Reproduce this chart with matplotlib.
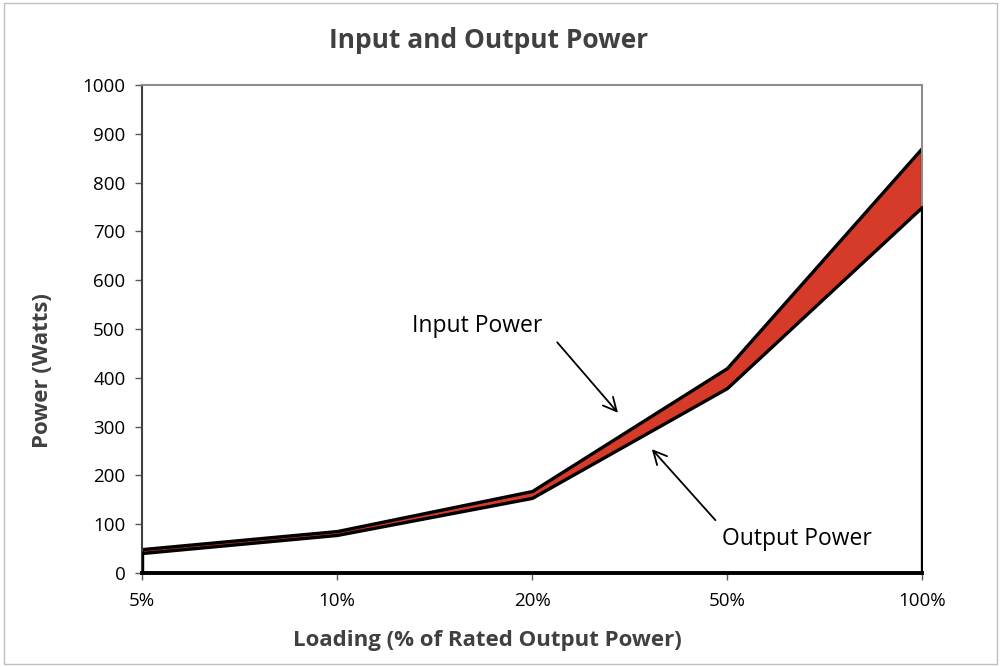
import matplotlib.pyplot as plt
from matplotlib.patches import Rectangle

plt.rcParams['font.family'] = ['Open Sans', 'DejaVu Sans']

loading = ['5%', '10%', '20%', '50%', '100%']
input_power = [49, 86, 168, 420, 871]
output_power = [41, 78, 154, 379, 750]

x = list(range(len(loading)))

fig = plt.figure(figsize=(10.01, 6.67), dpi=100)
ax = fig.add_axes([0.1419, 0.1409, 0.9211 - 0.1419, 0.8726 - 0.1409])

# 外框
fig.patches.append(Rectangle((0.004, 0.004), 0.992, 0.992, transform=fig.transFigure,
                             fill=False, edgecolor='#bfbfbf', linewidth=1.0))

# 输入功率（红色）和输出功率（白色）面积
ax.fill_between(x, 0, input_power, facecolor='#d63a28', edgecolor='black', linewidth=2.4, zorder=2)
ax.fill_between(x, 0, output_power, facecolor='white', edgecolor='black', linewidth=2.4, zorder=3)

ax.set_xlim(0, 4)
ax.set_ylim(0, 1000)
ax.set_yticks(range(0, 1001, 100))
ax.set_xticks(x)
ax.set_xticklabels(loading)
ax.tick_params(axis='both', labelsize=13.5, direction='out', length=5, width=1, color='#595959')
ax.tick_params(axis='y', pad=7)
ax.tick_params(axis='x', pad=9)

for side in ['top', 'right']:
    ax.spines[side].set_color('#8c8c8c')
    ax.spines[side].set_linewidth(1.5)
ax.spines['left'].set_color('#404040')
ax.spines['left'].set_linewidth(1.5)
ax.spines['bottom'].set_color('black')
ax.spines['bottom'].set_linewidth(2.8)
ax.spines['bottom'].set_zorder(5)

fig.text(0.488, 0.94, 'Input and Output Power', fontsize=19, fontweight='bold',
         color='#404040', ha='center', va='center')
fig.text(0.487, 0.040, 'Loading (% of Rated Output Power)', fontsize=16, fontweight='bold',
         color='#404040', ha='center', va='center')
fig.text(0.042, 0.445, 'Power (Watts)', fontsize=16, fontweight='bold', color='#404040',
         ha='center', va='center', rotation=90)

# 标注
ax.annotate('', xy=(2.45, 324), xytext=(2.12, 477),
            arrowprops=dict(arrowstyle='->', color='black', lw=1.3, mutation_scale=24), zorder=6)
ax.text(1.72, 506, 'Input Power', fontsize=16.5, ha='center', va='center')
ax.annotate('', xy=(2.605, 258), xytext=(2.95, 104),
            arrowprops=dict(arrowstyle='->', color='black', lw=1.3, mutation_scale=24), zorder=6)
ax.text(3.36, 70, 'Output Power', fontsize=16.5, ha='center', va='center')

fig.savefig('out.png', dpi=100)
